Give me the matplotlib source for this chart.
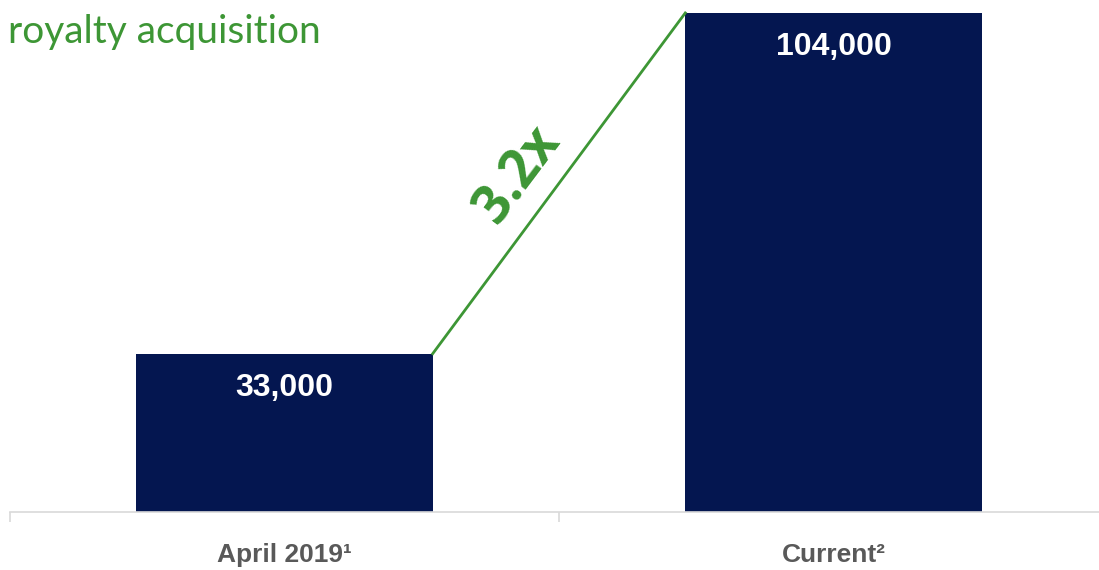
import matplotlib.pyplot as plt
from matplotlib import font_manager

categories = ['April 2019¹', 'Current²']
values = [33000, 104000]
value_labels = ['33,000', '104,000']
multiple_label = '3.2x'
title_text = 'royalty acquisition'

NAVY = '#041650'
GREEN = '#3D9635'
GRAY = '#595959'

names = {f.name for f in font_manager.fontManager.ttflist}
narrow = 'Liberation Sans Narrow' if 'Liberation Sans Narrow' in names else 'Liberation Sans'

fig = plt.figure(figsize=(10.99, 5.70), dpi=100)
ax = fig.add_axes([10 / 1099, 1 - 512 / 570, 1098 / 1099, 512 / 570])

bar_w = 0.54
x = list(range(len(categories)))
ax.bar(x, values, width=bar_w, color=NAVY, zorder=2)

for xi, v, lab in zip(x, values, value_labels):
    ax.annotate(lab, (xi, v), xytext=(0, -34), textcoords='offset pixels',
                ha='center', va='center', color='white', fontsize=23,
                fontweight='bold', family='Liberation Sans')

# growth line between bar tops
ax.plot([x[0] + bar_w / 2, x[1] - bar_w / 2], values, color=GREEN, lw=2, zorder=3)
ax.text(0.425, 70300, multiple_label, color=GREEN, fontsize=38, fontweight='bold',
        family='Open Sans', rotation=53, ha='center', va='center', rotation_mode='anchor')

ax.set_xlim(-0.5, 1.5)
ax.set_ylim(0, 106700)
for s in ['top', 'right', 'left']:
    ax.spines[s].set_visible(False)
ax.spines['bottom'].set_color('#D9D9D9')
ax.spines['bottom'].set_linewidth(1.2)
ax.set_yticks([])
ax.set_xticks(x)
ax.set_xticklabels(categories, fontsize=19, fontweight='bold', color=GRAY, family=narrow)
ax.tick_params(axis='x', length=0, pad=22)
ax.set_xticks([-0.5, 0.5, 1.5], minor=True)
ax.tick_params(axis='x', which='minor', length=7.5, color='#D9D9D9', width=1.2)

fig.text(8 / 1099, 1 - 32 / 570, title_text, color=GREEN, fontsize=28,
         family='Lato', ha='left', va='center')

fig.savefig('out.png', dpi=100)
